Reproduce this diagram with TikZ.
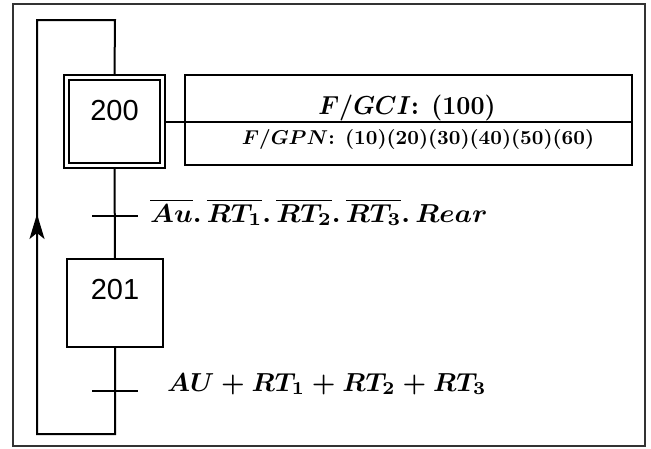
\documentclass[tikz,border=0pt]{standalone}
\usepackage{amsmath}
\usepackage{graphicx}
\usepackage{fontspec}
\newfontfamily\arialfont{Liberation Sans}
\usetikzlibrary{arrows.meta}
\tikzset{
  wire/.style={line width=2pt},
  stepbox/.style={draw, line width=2pt, inner sep=0pt},
  steplabel/.style={font=\arialfont\fontsize{29}{32}\selectfont, inner sep=0pt},
  condtext/.style={font=\boldmath, inner sep=0pt, anchor=base west},
  acttext/.style={inner sep=0pt, anchor=base, font=\bfseries\boldmath},
}
\begin{document}
\begin{tikzpicture}[x=1pt,y=-1pt]
\useasboundingbox (0,0) rectangle (651,448);
\node[draw=black!80, line width=1.4pt, minimum width=632pt, minimum height=442pt, inner sep=0pt] (frame) at (329,225) {};
% step 200 (initial, double box)
\node[stepbox, minimum width=101pt, minimum height=93pt] (s200) at (114.5,121.5) {};
\node[stepbox, minimum width=91pt, minimum height=83pt] (s200i) at (114.5,121.5) {};
\node[steplabel] (l200) at (114.5,111) {200};
% action box
\node[stepbox, minimum width=447pt, minimum height=90pt] (act) at (408.5,120) {};
\draw[wire] (s200.east) -- (s200.east -| act.east);
\node[acttext] (gci) at (407,114) {\scalebox{2.45}[2.6]{$F/GCI$: $(100)$}};
\node[acttext] (gpn) at (418,144) {\scalebox{2.03}[2.0]{$F/GPN$: $(10)(20)(30)(40)(50)(60)$}};
% step 201
\node[stepbox, minimum width=96pt, minimum height=88pt] (s201) at (115,303) {};
\node[steplabel] (l201) at (115,290) {201};
% transitions
\coordinate (t1) at (115,216);
\coordinate (t2) at (115,391);
\draw[wire] ([xshift=-23pt]t1) -- ([xshift=23pt]t1);
\draw[wire] ([xshift=-23pt]t2) -- ([xshift=23pt]t2);
\node[condtext] (c1) at (150,222) {\scalebox{2.75}[2.6]{$\overline{Au}.\,\overline{RT_1}.\,\overline{RT_2}.\,\overline{RT_3}.\,Rear$}};
\node[condtext] (c2) at (167,391) {\scalebox{2.65}[2.6]{$AU+RT_1+RT_2+RT_3$}};
% links
\coordinate (top) at (115,20);
\coordinate (topl) at (37,20);
\coordinate (bot) at (115,434);
\coordinate (botl) at (37,434);
\draw[wire] (s200.south) -- (s201.north);
\draw[wire] (s201.south) -- (bot) -- (botl) -- (topl) -- (top) -- (s200.north);
\draw[wire, -{Stealth[length=25pt, width=15pt, inset=6pt]}] (37,260) -- (37,214);
\end{tikzpicture}
\end{document}
